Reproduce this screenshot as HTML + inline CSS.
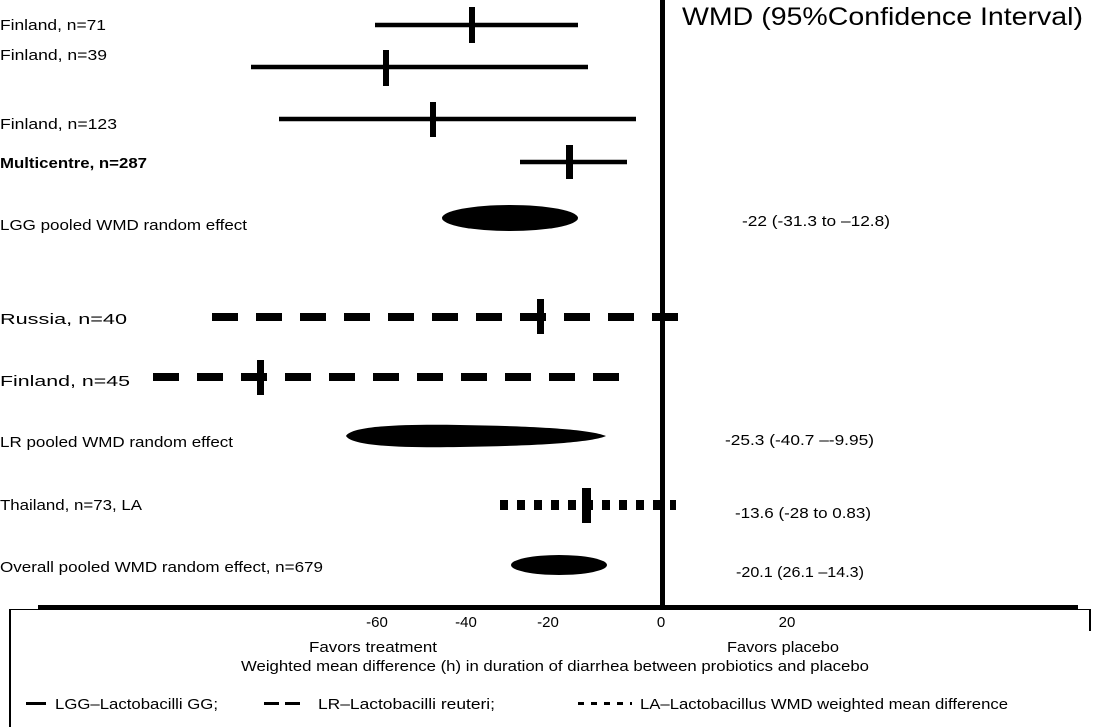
<!DOCTYPE html>
<html><head><meta charset="utf-8"><style>html,body{margin:0;padding:0;background:#fff}svg{display:block}</style></head>
<body>
<svg width="1094" height="727" viewBox="0 0 1094 727" xmlns="http://www.w3.org/2000/svg" font-family="Liberation Sans, Arial, sans-serif" font-size="15" fill="#000">
<rect x="660" y="0" width="5" height="608" fill="#000"/>
<text x="682" y="25" font-size="25" textLength="401" lengthAdjust="spacingAndGlyphs">WMD  (95%Confidence Interval)</text>

<g stroke="#000" stroke-width="4.5">
<line x1="375" y1="25" x2="578" y2="25"/>
<line x1="251" y1="67" x2="588" y2="67"/>
<line x1="279" y1="119" x2="636" y2="119"/>
<line x1="520" y1="162" x2="627" y2="162"/>
</g>
<g fill="#000">
<rect x="469" y="7" width="6" height="36"/>
<rect x="383" y="50" width="6" height="36"/>
<rect x="430" y="102" width="6" height="35"/>
<rect x="566" y="145" width="7" height="34"/>
</g>
<ellipse cx="510" cy="218" rx="68" ry="13"/>

<g stroke="#000" stroke-width="8" stroke-dasharray="26 18">
<line x1="212" y1="317" x2="684" y2="317"/>
<line x1="153" y1="377" x2="627" y2="377"/>
</g>
<rect x="537" y="299" width="7" height="35"/>
<rect x="257" y="360" width="7" height="35"/>
<path d="M346,436 C352,426 400,424 460,425 C530,426 590,429 606,436 C590,443 530,446 460,447 C400,448 352,446 346,436 Z"/>
<line x1="500" y1="505" x2="676" y2="505" stroke="#000" stroke-width="10" stroke-dasharray="8 9"/>
<rect x="582" y="488" width="9" height="35"/>
<ellipse cx="559" cy="565" rx="48" ry="10"/>

<text x="0" y="30" textLength="106" lengthAdjust="spacingAndGlyphs">Finland,  n=71</text>
<text x="0" y="60" textLength="107" lengthAdjust="spacingAndGlyphs">Finland,  n=39</text>
<text x="0" y="129" textLength="117" lengthAdjust="spacingAndGlyphs">Finland,  n=123</text>
<text x="0" y="168" font-weight="bold" textLength="147" lengthAdjust="spacingAndGlyphs">Multicentre, n=287</text>
<text x="0" y="230" textLength="247" lengthAdjust="spacingAndGlyphs">LGG pooled WMD random effect</text>
<text x="0" y="324" textLength="127" lengthAdjust="spacingAndGlyphs">Russia, n=40</text>
<text x="0" y="386" textLength="130" lengthAdjust="spacingAndGlyphs">Finland, n=45</text>
<text x="0" y="447" textLength="233" lengthAdjust="spacingAndGlyphs">LR pooled WMD random effect</text>
<text x="0" y="510" textLength="142" lengthAdjust="spacingAndGlyphs">Thailand, n=73, LA</text>
<text x="0" y="572" textLength="323" lengthAdjust="spacingAndGlyphs">Overall pooled WMD random effect, n=679</text>

<text x="742" y="226" textLength="148" lengthAdjust="spacingAndGlyphs">-22 (-31.3 to –12.8)</text>
<text x="725" y="445" textLength="149" lengthAdjust="spacingAndGlyphs">-25.3 (-40.7 –-9.95)</text>
<text x="735" y="518" textLength="136" lengthAdjust="spacingAndGlyphs">-13.6 (-28 to 0.83)</text>
<text x="736" y="577" textLength="128" lengthAdjust="spacingAndGlyphs">-20.1  (26.1 –14.3)</text>

<line x1="10" y1="609.5" x2="1090" y2="609.5" stroke="#000" stroke-width="1"/>
<rect x="9" y="609" width="2" height="118"/>
<rect x="1089" y="609" width="2" height="22"/>
<rect x="38" y="605" width="1040" height="5"/>

<g text-anchor="middle">
<text x="377" y="627">-60</text>
<text x="466" y="627">-40</text>
<text x="548" y="627">-20</text>
<text x="661" y="627">0</text>
<text x="787" y="627">20</text>
<text x="373" y="652" textLength="128" lengthAdjust="spacingAndGlyphs">Favors treatment</text>
<text x="783" y="652" textLength="112" lengthAdjust="spacingAndGlyphs">Favors placebo</text>
<text x="555" y="671" textLength="628" lengthAdjust="spacingAndGlyphs">Weighted mean difference (h) in duration of diarrhea between probiotics and placebo</text>
</g>

<rect x="26" y="702" width="20" height="3"/>
<text x="55" y="709" textLength="163" lengthAdjust="spacingAndGlyphs">LGG–Lactobacilli GG;</text>
<rect x="264" y="702" width="15" height="3"/>
<rect x="285" y="702" width="15" height="3"/>
<text x="318" y="709" textLength="177" lengthAdjust="spacingAndGlyphs">LR–Lactobacilli reuteri;</text>
<line x1="578" y1="703.5" x2="632" y2="703.5" stroke="#000" stroke-width="3" stroke-dasharray="6 7"/>
<text x="640" y="709" textLength="368" lengthAdjust="spacingAndGlyphs">LA–Lactobacillus WMD weighted mean difference</text>
</svg>
</body></html>
